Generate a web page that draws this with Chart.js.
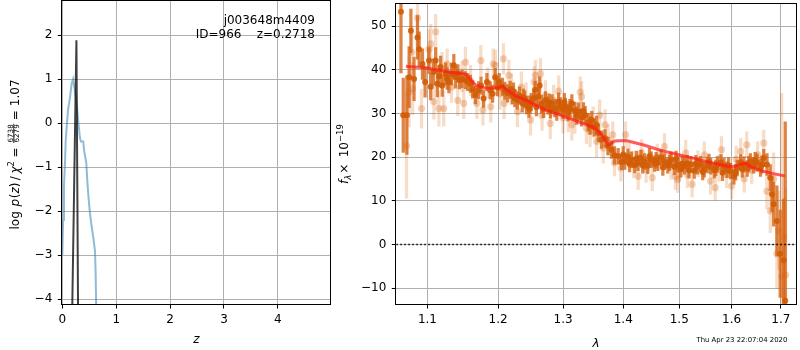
<!DOCTYPE html>
<html>
<head>
<meta charset="utf-8">
<script src="https://cdn.jsdelivr.net/npm/chart.js@4.4.1/dist/chart.umd.min.js"></script>
<style>
  html, body { margin: 0; padding: 0; background: #fff; }
  #wrap { position: relative; width: 800px; height: 350px; }
  #wrap canvas { position: absolute; left: 0; top: 0; }
</style>
</head>
<body>
<div id="wrap">
  <canvas id="pz" width="800" height="350"></canvas>
  <canvas id="spec" width="800" height="350"></canvas>
</div>
<script>
// ---- left panel: log p(z) ----
const zTicks = [0, 1, 2, 3, 4];
const logpTicks = [-4, -3, -2, -1, 0, 1, 2];

const chiZ = [0.000, 0.015, 0.031, 0.050, 0.063, 0.081, 0.106, 0.140, 0.174, 0.200, 0.235, 0.267, 0.296,
	0.328, 0.346, 0.389, 0.407, 0.445, 0.463, 0.489, 0.513, 0.545, 0.575, 0.606, 0.618, 0.630];
const chiLogP = [-3.0, -2.2, -1.44, -0.9, -0.4, -0.1, 0.3, 0.55, 0.9, 1.0, 0.72, 0.42, 0.04,
	-0.34, -0.42, -0.42, -0.65, -0.9, -1.3, -1.72, -2.05, -2.35, -2.6, -2.9, -3.35, -4.3];

const pzZ = [0.182, 0.262, 0.2718, 0.293];
const pzLogP = [-4.4, 1.88, 1.88, -4.4];

// ---- right panel: spectrum ----
const lamTicks = [1.1, 1.2, 1.3, 1.4, 1.5, 1.6, 1.7];
const fluxTicks = [-10, 0, 10, 20, 30, 40, 50];
const LAM_MIN = 1.0586, LAM_MAX = 1.732;

const modelLam = [1.0712, 1.0987, 1.1301, 1.1489, 1.1535, 1.1679, 1.1822, 1.1991, 1.2064, 1.2138, 1.2263,
	1.2464, 1.2721, 1.2981, 1.3250, 1.3467, 1.3523, 1.3633, 1.3745, 1.3799, 1.3857, 1.4027, 1.4084,
	1.4374, 1.4669, 1.4971, 1.5277, 1.5593, 1.5914, 1.6014, 1.6180, 1.6282, 1.6374, 1.6590, 1.6849, 1.7083];
const modelFlux = [40.8, 40.4, 39.5, 39.1, 38.9, 36.4, 35.8, 35.8, 36.3, 35.3, 34.0,
	32.7, 30.8, 29.5, 28.1, 27.0, 26.6, 25.1, 22.8, 23.2, 23.7, 23.8, 23.7,
	22.7, 21.5, 20.6, 19.7, 18.75, 17.9, 17.8, 18.3, 18.6, 17.8, 16.9, 16.2, 15.7];

const darkLam = [1.0647, 1.0677, 1.0725, 1.0755, 1.0778, 1.0820, 1.0866, 1.0888, 1.0933, 1.0968,
	1.1021, 1.1044, 1.1080, 1.1112, 1.1135, 1.1160, 1.1180, 1.1203, 1.1249, 1.1270, 1.1294, 1.1330,
	1.1363, 1.1387, 1.1420, 1.1443, 1.1480, 1.1527, 1.1559, 1.1597, 1.1630, 1.1669, 1.1716, 1.1750,
	1.1788, 1.1836, 1.1884, 1.1920, 1.1957, 1.1990, 1.2016, 1.2064, 1.2100, 1.2140, 1.2180, 1.2212,
	1.2250, 1.2287, 1.2320, 1.2363, 1.2400, 1.2430, 1.2464, 1.2500, 1.2540, 1.2560, 1.2580, 1.2630,
	1.2660, 1.2690, 1.2721, 1.2760, 1.2800, 1.2824, 1.2870, 1.2929, 1.2960, 1.3000, 1.3035, 1.3080,
	1.3141, 1.3190, 1.3250, 1.3300, 1.3359, 1.3410, 1.3467, 1.3510, 1.3549, 1.3577, 1.3630, 1.3689,
	1.3740, 1.3799, 1.3850, 1.3913, 1.3970, 1.4027, 1.4080, 1.4141, 1.4200, 1.4257, 1.4310, 1.4374,
	1.4430, 1.4491, 1.4550, 1.4610, 1.4670, 1.4730, 1.4790, 1.4849, 1.4910, 1.4971, 1.5030, 1.5094,
	1.5150, 1.5216, 1.5280, 1.5342, 1.5400, 1.5468, 1.5530, 1.5593, 1.5660, 1.5721, 1.5790, 1.5850,
	1.5910, 1.5979, 1.6045, 1.6110, 1.6180, 1.6243, 1.6310, 1.6374, 1.6440, 1.6509, 1.6580, 1.6645,
	1.6712, 1.6780, 1.6815, 1.6849, 1.6917, 1.6986, 1.7057, 1.7092,
	// denser part of the band
	1.2230, 1.2380, 1.2480, 1.2610, 1.2780, 1.2900, 1.3020, 1.3110, 1.3220, 1.3330, 1.3440,
	1.4000, 1.4110, 1.4230, 1.4340, 1.4460, 1.4580, 1.4700, 1.4820, 1.4940, 1.5060, 1.5180,
	1.5310, 1.5440, 1.5560, 1.5690, 1.5820, 1.5940, 1.6080, 1.6210, 1.6340, 1.6470, 1.6610];
const darkFlux = [53.3, 29.6, 29.6, 38.3, 48.9, 37.9, 47.4, 44.7, 41.3, 37.2,
	42.1, 36.1, 39.5, 42.1, 36.8, 38.5, 40.6, 36.4, 39.1, 38.0, 37.2, 39.0,
	41.0, 38.3, 39.2, 37.6, 37.9, 37.6, 37.2, 36.8, 35.5, 34.2, 35.3, 36.4,
	33.4, 37.2, 35.3, 34.5, 38.3, 36.0, 37.2, 36.1, 35.2, 34.6, 35.4, 34.2,
	33.5, 33.0, 34.1, 32.3, 33.2, 31.9, 31.1, 32.6, 33.5, 35.4, 31.4, 36.4,
	32.2, 31.0, 33.0, 31.8, 30.9, 32.3, 31.2, 32.7, 31.6, 30.8, 31.5, 30.2,
	32.3, 30.6, 30.4, 29.1, 29.6, 28.0, 28.5, 26.8, 27.4, 25.5, 24.0, 24.3,
	22.5, 21.7, 20.4, 20.2, 18.9, 19.0, 20.1, 19.4, 18.2, 18.7, 19.8, 19.0,
	18.0, 19.4, 18.5, 18.7, 19.9, 19.0, 18.1, 19.4, 17.8, 18.3, 17.2, 17.9,
	18.6, 18.3, 16.9, 17.9, 18.4, 17.2, 18.2, 17.9, 17.0, 18.3, 18.8, 18.0,
	17.1, 16.8, 15.6, 17.5, 18.8, 18.3, 17.4, 19.0, 18.1, 18.7, 17.6, 19.8,
	18.3, 15.3, 11.5, 9.2, 5.4, -2.1, -3.6, -12.9,
	35.0, 33.6, 32.0, 33.9, 32.5, 30.4, 32.6, 31.2, 29.5, 30.5, 27.2,
	20.6, 18.4, 19.6, 18.1, 20.2, 19.3, 17.6, 18.7, 19.6, 18.5, 17.0,
	18.6, 16.6, 18.9, 17.5, 16.4, 18.1, 16.5, 17.2, 18.4, 19.3, 18.3];
const darkErr = [14, 8.5, 9, 7, 5, 5, 5, 4, 3.5, 3.5,
	3, 3, 3, 3, 3, 2.5, 2.5, 2.5, 2.5, 2.5, 2.5, 2.5,
	2.5, 2.5, 2, 2, 2, 2, 2, 2, 2, 2, 2, 2,
	2, 2, 2, 2, 2, 2, 2, 2, 2, 2, 2, 2,
	2, 2, 2, 2, 2, 2, 2, 2, 2, 2, 2, 2,
	2, 2, 2, 2, 2, 2, 2, 2, 2, 2, 2, 2,
	2, 2, 2, 2, 2, 2, 2, 2, 2, 2, 2, 2,
	2, 2, 2, 1.8, 1.8, 1.8, 1.8, 1.8, 1.8, 1.8, 1.8, 1.8,
	1.8, 1.8, 1.8, 1.8, 1.8, 1.8, 1.8, 1.8, 1.8, 1.8, 1.8, 1.8,
	1.8, 1.8, 1.8, 1.8, 1.8, 1.8, 1.8, 1.8, 1.8, 1.8, 1.8, 1.8,
	1.8, 1.8, 1.8, 1.8, 1.8, 1.8, 1.8, 1.8, 1.8, 2, 2, 2,
	2.5, 3, 4, 5, 8, 10, 14, 41,
	2, 2, 2, 2, 2, 2, 2, 2, 2, 2, 2,
	1.8, 1.8, 1.8, 1.8, 1.8, 1.8, 1.8, 1.8, 1.8, 1.8, 1.8,
	1.8, 1.8, 1.8, 1.8, 1.8, 1.8, 1.8, 1.8, 1.8, 1.8, 2];

const lightLam = [1.0720, 1.0755, 1.0790, 1.0800, 1.0866, 1.0920, 1.1020, 1.1044, 1.1088, 1.1112,
	1.1156, 1.1200, 1.1223, 1.1270, 1.1330, 1.1418, 1.1480, 1.1503, 1.1527, 1.1600, 1.1691, 1.1748,
	1.1778, 1.1850, 1.1892, 1.1928, 1.1960, 1.2030, 1.2080, 1.2090, 1.2160, 1.2200, 1.2290, 1.2350,
	1.2420, 1.2490, 1.2545, 1.2566, 1.2643, 1.2668, 1.2720, 1.2797, 1.2850, 1.2930, 1.3000, 1.3085,
	1.3140, 1.3190, 1.3277, 1.3300, 1.3380, 1.3440, 1.3490, 1.3549, 1.3600, 1.3660, 1.3690, 1.3740,
	1.3820, 1.3850, 1.3960, 1.4040, 1.4100, 1.4180, 1.4260, 1.4320, 1.4400, 1.4510, 1.4600, 1.4730,
	1.4850, 1.4930, 1.4970, 1.5000, 1.5120, 1.5150, 1.5240, 1.5350, 1.5470, 1.5590, 1.5680, 1.5750,
	1.5800, 1.5900, 1.6000, 1.6090, 1.6180, 1.6250, 1.6300, 1.6400, 1.6520, 1.6645, 1.6710, 1.6780,
	1.6850, 1.6917, 1.6960, 1.7016, 1.7057, 1.7100];
const lightFlux = [22.6, 34.9, 44.0, 35.7, 51.9, 31.1, 44.7, 45.9, 32.7, 48.7,
	31.1, 40.0, 31.1, 41.3, 36.0, 33.0, 38.5, 32.3, 41.7, 37.5, 32.3, 42.1,
	30.8, 37.0, 31.5, 41.3, 41.0, 34.5, 42.5, 32.3, 38.7, 35.5, 30.4, 36.0,
	33.5, 28.5, 37.2, 38.7, 39.1, 29.6, 34.0, 27.7, 33.0, 35.1, 29.0, 29.3,
	27.4, 28.9, 34.9, 33.8, 26.6, 25.9, 28.0, 23.6, 29.6, 22.1, 27.4, 24.0,
	25.1, 18.7, 17.5, 25.1, 20.5, 18.3, 15.6, 21.0, 17.2, 15.3, 20.0, 22.4,
	17.9, 15.6, 14.9, 17.5, 20.9, 16.0, 13.8, 18.5, 20.5, 14.5, 13.0, 17.5,
	21.7, 16.0, 13.4, 19.5, 21.3, 15.0, 22.8, 17.0, 20.5, 23.2, 12.2, 7.7,
	15.0, -2.1, 3.2, -7.4, 1.7, -7.0];
const lightErr = [12, 8, 6, 6, 5, 4.5, 4.5, 4.5, 4, 4,
	4, 4, 4, 3.5, 3.5, 3.5, 3.5, 3.5, 3.5, 3.5, 3.5, 3.5,
	3.5, 3.5, 3.5, 3.5, 3.5, 3.5, 3.5, 3.5, 3.5, 3.5, 3.5, 3.5,
	3.5, 3.5, 3.5, 3.5, 3.5, 3.5, 3.5, 3.5, 3.5, 3.5, 3.5, 3.5,
	3.5, 3.5, 3.5, 3.5, 3.5, 3.5, 3.5, 3.5, 3.5, 3.5, 3.5, 3.5,
	3, 3, 3, 3, 3, 3, 3, 3, 3, 3, 3, 3,
	3, 3, 3, 3, 3, 3, 3, 3, 3, 3, 3, 3,
	3, 3, 3, 3, 3, 3, 3, 3, 3, 3, 4, 5,
	6, 8, 9, 42, 14, 20];

// ---- text ----
const objName = 'j003648m4409';
const objInfo = 'ID=966    z=0.2718';
const stamp = 'Thu Apr 23 22:07:04 2020';

const FONT = '"DejaVu Sans", sans-serif';
Chart.defaults.font.family = FONT;
Chart.defaults.font.size = 12;
Chart.defaults.color = '#000';

const minus = v => String(v).replace('-', '\u2212');
const gridOpts = { color: '#b0b0b0', lineWidth: 1, tickColor: '#000', tickLength: 4.5 };

// no label overhang padding, so the plot box sits exactly where we ask
const fitX = h => s => { s.height = h; s.paddingLeft = 0; s.paddingRight = 0; };
const fitY = w => s => { s.width = w; s.paddingTop = 0; s.paddingBottom = 0; };

function drawRuns(ctx, runs, x, y) {
	// runs: [text, font, dy, gapAfter]; centred on x along baseline y
	const widthOf = r => { ctx.font = r[1]; return (r.w !== undefined ? r.w : ctx.measureText(r[0]).width) + (r[3] || 0); };
	let total = 0;
	for (const r of runs) total += widthOf(r);
	let cx = x - total / 2;
	for (const r of runs) {
		const w = widthOf(r);
		ctx.font = r[1];
		if (r.frac) r.frac(ctx, cx, y);
		else ctx.fillText(r[0], cx, y + (r[2] || 0));
		cx += w;
	}
}

const spines = (chart) => {
	const { ctx, chartArea: a } = chart;
	ctx.save();
	ctx.strokeStyle = '#000';
	ctx.lineWidth = 1;
	ctx.strokeRect(Math.round(a.left) - 0.5, Math.round(a.top) - 0.5, Math.round(a.right - a.left) + 1, Math.round(a.bottom - a.top) + 1);
	ctx.restore();
};

const pzDecor = {
	id: 'pzDecor',
	afterDraw(chart) {
		spines(chart);
		const { ctx, chartArea: a } = chart;
		ctx.save();
		ctx.fillStyle = '#000';
		ctx.textBaseline = 'alphabetic';
		ctx.font = '12px ' + FONT;
		ctx.textAlign = 'right';
		ctx.fillText(objName, 315, 24);
		ctx.fillText(objInfo, 315, 38.3);

		ctx.textAlign = 'center';
		ctx.font = 'italic 12px ' + FONT;
		ctx.fillText('z', (a.left + a.right) / 2, 343.3);

		// rotated y title with a small fraction
		ctx.translate(19.3, (a.top + a.bottom) / 2 + 2);
		ctx.rotate(-Math.PI / 2);
		ctx.textAlign = 'left';
		const big = '12px ' + FONT, it = 'italic 12px ' + FONT, sup = '8.5px ' + FONT, sm = '7.2px ' + FONT;
		const frac = ['', sm, 0, 3];
		ctx.font = sm;
		frac.w = Math.max(ctx.measureText('6738').width, ctx.measureText('6279').width) + 2;
		frac.frac = (c, x, y) => {
			c.font = sm;
			c.textAlign = 'center';
			c.fillText('6738', x + frac.w / 2, y - 6.7);
			c.fillText('6279', x + frac.w / 2, y - 0.2);
			c.fillRect(x + 0.5, y - 5.9, frac.w - 1, 0.8);
			c.textAlign = 'left';
		};
		drawRuns(ctx, [
			['log ', big, 0, 1], ['p', it, 0, 0.5], ['(', big], ['z', it], [')', big, 0, 2.5], ['/', big, 0, 2.5], ['\u03c7', it], ['2', sup, -5, 3.5],
			['=', big, 0, 4], frac, ['=', big, 0, 4], ['1.07', big]
		], 0, 0);
		ctx.restore();
	}
};

new Chart(document.getElementById('pz'), {
	type: 'scatter',
	data: {
		datasets: [{
			type: 'line',
			data: pzZ.map((z, i) => ({ x: z, y: pzLogP[i] })),
			borderColor: 'rgba(0,0,0,0.75)',
			borderWidth: 2,
			pointRadius: 0,
			clip: 0,
			order: 0,
		}, {
			type: 'line',
			data: chiZ.map((z, i) => ({ x: z, y: chiLogP[i] })),
			borderColor: 'rgba(31,119,180,0.5)',
			borderWidth: 2,
			pointRadius: 0,
			clip: 0,
			order: 1,
		}]
	},
	options: {
		responsive: false,
		animation: false,
		events: [],
		layout: { padding: { left: 0, right: 469.3, top: 1, bottom: 0 } },
		plugins: { legend: { display: false }, tooltip: { enabled: false } },
		scales: {
			x: {
				type: 'linear', min: 0, max: 4.98,
				afterBuildTicks: s => { s.ticks = zTicks.map(v => ({ value: v })); },
				afterFit: fitX(46),
				grid: gridOpts,
				border: { display: false },
				ticks: { padding: 4, maxRotation: 0, callback: v => minus(v) },
			},
			y: {
				type: 'linear', min: -4.107, max: 2.772,
				afterBuildTicks: s => { s.ticks = logpTicks.map(v => ({ value: v })); },
				afterFit: fitY(62.3),
				grid: gridOpts,
				border: { display: false },
				ticks: { padding: 5.5, callback: v => minus(v) },
			}
		}
	},
	plugins: [pzDecor]
});

const specDecor = {
	id: 'specDecor',
	afterDraw(chart) {
		spines(chart);
		const { ctx, chartArea: a } = chart;
		ctx.save();
		ctx.fillStyle = '#000';
		ctx.textAlign = 'center';
		ctx.font = 'italic 12px ' + FONT;
		ctx.fillText('\u03bb', (a.left + a.right) / 2, 346.5);

		ctx.font = '6.9px ' + FONT;
		ctx.textAlign = 'right';
		ctx.fillText(stamp, 787.3, 342);

		ctx.translate(348.3, (a.top + a.bottom) / 2);
		ctx.rotate(-Math.PI / 2);
		ctx.textAlign = 'left';
		const big = '12px ' + FONT, it = 'italic 12px ' + FONT, sub = 'italic 8.5px ' + FONT, sup = '8.5px ' + FONT;
		drawRuns(ctx, [
			['f', it], ['\u03bb', sub, 2.5, 1], ['\u00d7', big, 0, 2.5], [' 10', big], ['\u221219', sup, -5.5]
		], 0, 0);
		ctx.restore();
	}
};

const errBars = (lam, flux, err) => lam.map((l, i) => ({ x: l, y: [flux[i] - err[i], flux[i] + err[i]] }));
const pts = (lam, flux) => lam.map((l, i) => ({ x: l, y: flux[i] }));

new Chart(document.getElementById('spec'), {
	type: 'scatter',
	data: {
		datasets: [{
			type: 'line',
			data: pts(modelLam, modelFlux),
			borderColor: 'rgba(255,25,25,0.7)',
			borderWidth: 3,
			pointRadius: 0,
			clip: 0,
			order: 0,
		}, {
			type: 'line',
			data: [{ x: LAM_MIN, y: 0 }, { x: LAM_MAX, y: 0 }],
			borderColor: '#000',
			borderWidth: 1.5,
			borderDash: [1.5, 2.5],
			pointRadius: 0,
			clip: 0,
			order: 1,
		}, {
			type: 'scatter',
			data: pts(darkLam, darkFlux),
			pointRadius: 3,
			pointBorderWidth: 0,
			backgroundColor: 'rgba(210,92,5,0.9)',
			clip: 0,
			order: 2,
		}, {
			type: 'bar',
			data: errBars(darkLam, darkFlux, darkErr),
			barThickness: 2.6,
			backgroundColor: 'rgba(214,100,20,0.8)',
			borderWidth: 0,
			stack: 'err',
			clip: 0,
			order: 3,
		}, {
			type: 'scatter',
			data: pts(lightLam, lightFlux),
			pointRadius: 3.6,
			pointBorderWidth: 0,
			backgroundColor: 'rgba(217,95,2,0.28)',
			clip: 0,
			order: 4,
		}, {
			type: 'bar',
			data: errBars(lightLam, lightFlux, lightErr),
			barThickness: 2.6,
			backgroundColor: 'rgba(217,95,2,0.22)',
			borderWidth: 0,
			stack: 'err',
			clip: 0,
			order: 5,
		}]
	},
	options: {
		responsive: false,
		animation: false,
		events: [],
		layout: { padding: { left: 335, right: 0.7, top: 1, bottom: 0 } },
		plugins: { legend: { display: false }, tooltip: { enabled: false } },
		scales: {
			x: {
				type: 'logarithmic', min: LAM_MIN, max: LAM_MAX,
				offset: false,
				afterBuildTicks: s => { s.ticks = lamTicks.map(v => ({ value: v })); },
				afterFit: fitX(46),
				grid: Object.assign({}, gridOpts, { offset: false }),
				border: { display: false },
				ticks: { padding: 4, maxRotation: 0, autoSkip: false, callback: v => Number(v).toFixed(1) },
			},
			y: {
				type: 'linear', min: -13.63, max: 55.05, stacked: false,
				afterBuildTicks: s => { s.ticks = fluxTicks.map(v => ({ value: v })); },
				afterFit: fitY(61.3),
				grid: gridOpts,
				border: { display: false },
				ticks: { padding: 5.5, callback: v => minus(v) },
			}
		}
	},
	plugins: [specDecor]
});
</script>
</body>
</html>
